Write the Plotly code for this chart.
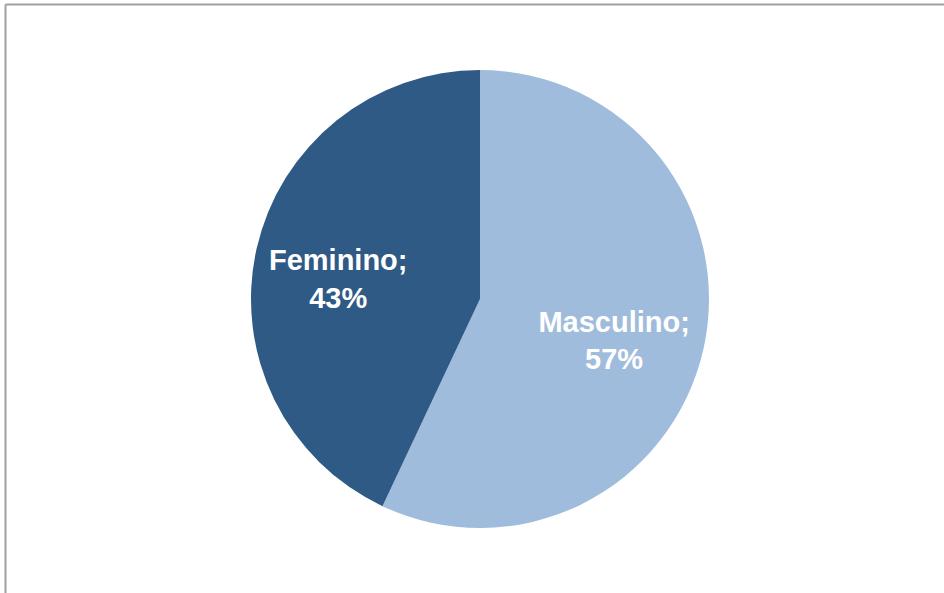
import plotly.graph_objects as go

labels = ["Masculino", "Feminino"]
values = [57, 43]
colors = ["#a0bcdc", "#305a86"]

W, H = 944, 593
cx, cy, r = 480, 299, 229
# transparent label-carrier pie (places the labels like the original)
tcx, tcy, rt = 477, 310, 281

def dom(x, y, rad):
    d = dict(x=[(x - rad) / W, (x + rad) / W], y=[(H - y - rad) / H, (H - y + rad) / H])
    d["x"] = [max(0, min(1, v)) for v in d["x"]]
    d["y"] = [max(0, min(1, v)) for v in d["y"]]
    return d

fig = go.Figure()
fig.add_trace(go.Pie(
    labels=labels,
    values=values,
    sort=False,
    direction="clockwise",
    rotation=0,
    marker=dict(colors=colors, line=dict(width=0)),
    textinfo="none",
    hoverinfo="label+percent",
    showlegend=False,
    domain=dom(cx, cy, r),
))
fig.add_trace(go.Pie(
    labels=labels,
    values=values,
    sort=False,
    direction="clockwise",
    rotation=0,
    marker=dict(colors=["rgba(0,0,0,0)", "rgba(0,0,0,0)"], line=dict(width=0)),
    texttemplate="<b>%{label};<br>%{percent:.0%}</b>",
    textposition="inside",
    insidetextorientation="horizontal",
    textfont=dict(family="Liberation Sans, Arial, sans-serif", size=29, color="white"),
    hoverinfo="skip",
    showlegend=False,
    domain=dom(tcx, tcy, rt),
))

fig.update_layout(
    width=W, height=H,
    margin=dict(l=0, r=0, t=0, b=0),
    paper_bgcolor="white",
    plot_bgcolor="white",
    shapes=[
        dict(type="line", xref="paper", yref="paper", x0=5.5 / W, x1=1, y0=1 - 4.5 / H, y1=1 - 4.5 / H,
             line=dict(color="#a0a0a0", width=2)),
        dict(type="line", xref="paper", yref="paper", x0=5.5 / W, x1=5.5 / W, y0=0, y1=1 - 4.5 / H,
             line=dict(color="#a0a0a0", width=2)),
    ],
)

fig.write_html("out.html")
